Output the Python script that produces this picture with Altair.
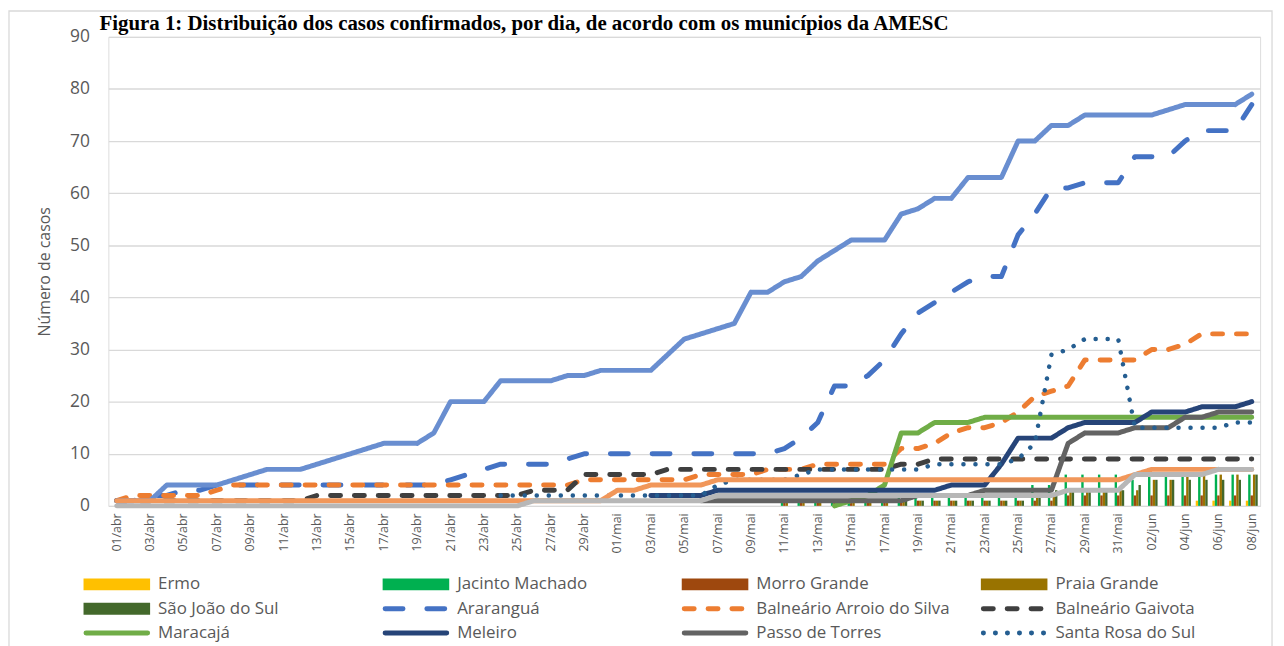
import altair as alt
import pandas as pd

titulo = "Figura 1: Distribuição dos casos confirmados, por dia, de acordo com os municípios da AMESC"

datas = [
    "01/abr", "02/abr", "03/abr", "04/abr", "05/abr", "06/abr", "07/abr", "08/abr", "09/abr", "10/abr",
    "11/abr", "12/abr", "13/abr", "14/abr", "15/abr", "16/abr", "17/abr", "18/abr", "19/abr", "20/abr",
    "21/abr", "22/abr", "23/abr", "24/abr", "25/abr", "26/abr", "27/abr", "28/abr", "29/abr", "30/abr",
    "01/mai", "02/mai", "03/mai", "04/mai", "05/mai", "06/mai", "07/mai", "08/mai", "09/mai", "10/mai",
    "11/mai", "12/mai", "13/mai", "14/mai", "15/mai", "16/mai", "17/mai", "18/mai", "19/mai", "20/mai",
    "21/mai", "22/mai", "23/mai", "24/mai", "25/mai", "26/mai", "27/mai", "28/mai", "29/mai", "30/mai",
    "31/mai", "01/jun", "02/jun", "03/jun", "04/jun", "05/jun", "06/jun", "07/jun", "08/jun",
]

N = None

# ---- bar series (clustered columns) ----
ermo = [0, 0, 0, 0, 0, 0, 0, 0, 0, 0,
        0, 0, 0, 0, 0, 0, 0, 0, 0, 0,
        0, 0, 0, 0, 0, 0, 0, 0, 0, 0,
        0, 0, 0, 0, 0, 0, 0, 0, 0, 0,
        0, 0, 0, 0, 0, 0, 0, 0, 0, 0,
        0, 0, 0, 0, 0, 0, 0, 0, 0, 0,
        0, 0, 0, 0, 0, 1, 1, 1, 1]
jacinto = [0, 0, 0, 0, 0, 0, 0, 0, 0, 0,
           0, 0, 0, 0, 0, 0, 0, 0, 0, 0,
           0, 0, 0, 0, 0, 0, 0, 0, 0, 0,
           0, 0, 0, 0, 0, 0, 0, 0, 0, 0,
           1, 1, 1, 1, 1, 1, 1, 2, 2, 2,
           2, 2, 2, 2, 2, 4, 4, 6, 6, 6,
           6, 5, 6, 6, 6, 6, 6, 6, 6]
morro = [0, 0, 0, 0, 0, 0, 0, 0, 0, 0,
         0, 0, 0, 0, 0, 0, 0, 0, 0, 0,
         0, 0, 0, 0, 0, 0, 0, 0, 0, 0,
         0, 0, 0, 0, 0, 0, 0, 0, 0, 0,
         1, 1, 1, 1, 1, 1, 1, 1, 1, 1,
         1, 1, 1, 1, 1, 1, 1, 2, 2, 2,
         2, 2, 2, 2, 2, 2, 2, 2, 2]
praia = [0, 0, 0, 0, 0, 0, 0, 0, 0, 0,
         0, 0, 0, 0, 0, 0, 0, 0, 0, 0,
         0, 0, 0, 0, 0, 0, 0, 0, 0, 0,
         0, 0, 0, 0, 0, 0, 0, 0, 0, 0,
         1, 1, 1, 1, 1, 1, 1, 1, 1, 1,
         1, 1, 1, 1, 1, 2, 2, 3, 3, 3,
         3, 3, 5, 5, 6, 6, 6, 6, 6]
saojoao = [0, 0, 0, 0, 0, 0, 0, 0, 0, 0,
           0, 0, 0, 0, 0, 0, 0, 0, 0, 0,
           0, 0, 0, 0, 0, 0, 0, 0, 0, 0,
           0, 0, 0, 0, 0, 0, 0, 0, 0, 0,
           0, 0, 0, 0, 0, 0, 0, 1, 1, 1,
           1, 1, 1, 1, 1, 2, 3, 3, 3, 3,
           3, 4, 5, 5, 5, 5, 5, 5, 6]

# ---- line series ----
ararangua = [1, 1, 2, 2, 3, 3, 4, 4, 4, 4,
             4, 4, 4, 4, 4, 4, 4, 4, 4, 4,
             5, 6, 7, 8, 8, 8, 8, 9, 10, 10,
             10, 10, 10, 10, 10, 10, 10, 10, 10, 10,
             11, 13, 16, 23, 23, 25, 28, 33, 37, 39,
             41, 43, 44, 44, 52, 56, 61, 61, 62, 62,
             62, 67, 67, 67, 70, 72, 72, 72, 77]
arroio = [1, 2, 2, 2, 2, 2, 3, 4, 4, 4,
          4, 4, 4, 4, 4, 4, 4, 4, 4, 4,
          4, 4, 4, 4, 4, 4, 4, 4, 5, 5,
          5, 5, 5, 5, 5, 6, 6, 6, 6, 7,
          7, 7, 8, 8, 8, 8, 8, 11, 11, 12,
          14, 15, 15, 16, 18, 21, 22, 23, 28, 28,
          28, 28, 30, 30, 31, 33, 33, 33, 33]
gaivota = [1, 1, 1, 1, 1, 1, 1, 1, 1, 1,
           1, 1, 2, 2, 2, 2, 2, 2, 2, 2,
           2, 2, 2, 2, 2, 3, 3, 3, 6, 6,
           6, 6, 6, 7, 7, 7, 7, 7, 7, 7,
           7, 7, 7, 7, 7, 7, 7, 8, 8, 9,
           9, 9, 9, 9, 9, 9, 9, 9, 9, 9,
           9, 9, 9, 9, 9, 9, 9, 9, 9]
maracaja = [N, N, N, N, N, N, N, N, N, N,
            N, N, N, N, N, N, N, N, N, N,
            N, N, N, N, N, N, N, N, N, N,
            N, N, N, N, N, N, N, N, N, N,
            N, N, N, 0, 1, 2, 4, 14, 14, 16,
            16, 16, 17, 17, 17, 17, 17, 17, 17, 17,
            17, 17, 17, 17, 17, 17, 17, 17, 17]
meleiro = [N, N, N, N, N, N, N, N, N, N,
           N, N, N, N, N, N, N, N, N, N,
           N, N, N, N, N, N, N, N, N, N,
           N, N, 2, 2, 2, 2, 3, 3, 3, 3,
           3, 3, 3, 3, 3, 3, 3, 3, 3, 3,
           4, 4, 4, 8, 13, 13, 13, 15, 16, 16,
           16, 16, 18, 18, 18, 19, 19, 19, 20]
passo = [N, N, N, N, N, N, N, N, N, N,
         N, N, N, N, N, N, N, N, N, N,
         N, N, N, N, N, N, N, N, N, N,
         N, N, N, N, N, 1, 1, 1, 1, 1,
         1, 1, 1, 1, 1, 1, 1, 1, 2, 2,
         2, 2, 3, 3, 3, 3, 3, 12, 14, 14,
         14, 15, 15, 15, 17, 17, 18, 18, 18]
santa_rosa = [N, N, N, N, N, N, N, N, N, N,
              N, N, N, N, N, N, N, N, N, N,
              N, N, N, 2, 2, 2, 2, 2, 2, 2,
              2, 2, 2, 2, 2, 2, 4, 5, 5, 5,
              5, 6, 7, 7, 7, 7, 7, 7, 7, 8,
              8, 8, 8, 8, 9, 12, 29, 30, 32, 32,
              32, 15, 15, 15, 15, 15, 15, 16, 16]
sombrio = [1, 1, 1, 4, 4, 4, 4, 5, 6, 7,
           7, 7, 8, 9, 10, 11, 12, 12, 12, 14,
           20, 20, 20, 24, 24, 24, 24, 25, 25, 26,
           26, 26, 26, 29, 32, 33, 34, 35, 41, 41,
           43, 44, 47, 49, 51, 51, 51, 56, 57, 59,
           59, 63, 63, 63, 70, 70, 73, 73, 75, 75,
           75, 75, 75, 76, 77, 77, 77, 77, 79]
timbe = [1, 1, 1, 1, 1, 1, 1, 1, 1, 1,
         1, 1, 1, 1, 1, 1, 1, 1, 1, 1,
         1, 1, 1, 1, 1, 1, 1, 1, 1, 1,
         3, 3, 4, 4, 4, 4, 5, 5, 5, 5,
         5, 5, 5, 5, 5, 5, 5, 5, 5, 5,
         5, 5, 5, 5, 5, 5, 5, 5, 5, 5,
         5, 6, 7, 7, 7, 7, 7, 7, 7]
turvo = [0, 0, 0, 0, 0, 0, 0, 0, 0, 0,
         0, 0, 0, 0, 0, 0, 0, 0, 0, 0,
         0, 0, 0, 0, 0, 1, 1, 1, 1, 1,
         1, 1, 1, 1, 1, 1, 2, 2, 2, 2,
         2, 2, 2, 2, 2, 2, 2, 2, 2, 2,
         2, 2, 2, 2, 2, 2, 2, 3, 3, 3,
         3, 6, 6, 6, 6, 6, 7, 7, 7]

bar_names = ["Ermo", "Jacinto Machado", "Morro Grande", "Praia Grande", "São João do Sul"]
bar_values = [ermo, jacinto, morro, praia, saojoao]
bar_colors = ["#FFC000", "#00B050", "#9E480E", "#997300", "#43682B"]

line_names = ["Araranguá", "Balneário Arroio do Silva", "Balneário Gaivota", "Maracajá",
              "Meleiro", "Passo de Torres", "Santa Rosa do Sul", "Sombrio", "Timbé do Sul", "Turvo"]
line_values = [ararangua, arroio, gaivota, maracaja, meleiro, passo, santa_rosa, sombrio, timbe, turvo]
line_colors = ["#4472C4", "#ED7D31", "#3F3F3F", "#70AD47", "#264478", "#636363",
               "#255E91", "#698ED0", "#F1975A", "#B7B7B7"]
line_dashes = [[18, 24], [10, 14], [10, 14], [1, 0], [1, 0], [1, 0], [0.1, 12], [1, 0], [1, 0], [1, 0]]
line_widths = [5, 5, 5, 5, 5, 5, 4.5, 5, 5, 5]

# ---------------- scales / axes ----------------
GRAY = "#595959"
xscale = alt.Scale(type="band", domain=datas, paddingInner=0, paddingOuter=0)
yscale = alt.Scale(domain=[0, 90], nice=False, zero=True)
xaxis = alt.Axis(values=datas[::2], labelAngle=-90, labelFontSize=12.5, labelColor=GRAY,
                 labelFont="Open Sans", ticks=False, domain=False, grid=False, title=None,
                 labelPadding=7)
yaxis = alt.Axis(values=list(range(0, 100, 10)), grid=True, gridColor="#D9D9D9", gridWidth=1.3,
                 domain=False, ticks=False, labelFontSize=17.5, labelColor=GRAY,
                 labelFont="Open Sans", labelPadding=19, title="Número de casos",
                 titleFontSize=16, titleFontWeight="normal", titleColor=GRAY,
                 titleFont="Open Sans", titleX=-56)

# bars
bar_rows = []
for name, vals in zip(bar_names, bar_values):
    for d, v in zip(datas, vals):
        if v:
            bar_rows.append({"data": d, "serie": name, "valor": v})
bars = alt.Chart(pd.DataFrame(bar_rows)).mark_bar().encode(
    x=alt.X("data:N", scale=xscale, axis=xaxis),
    xOffset=alt.XOffset("serie:N", scale=alt.Scale(domain=bar_names, paddingOuter=1, paddingInner=0)),
    y=alt.Y("valor:Q", scale=yscale, axis=yaxis),
    color=alt.Color("serie:N", scale=alt.Scale(domain=bar_names, range=bar_colors), legend=None),
)

line_layers = []
for name, vals, col, dash, w in zip(line_names, line_values, line_colors, line_dashes, line_widths):
    rows = [{"data": d, "valor": v} for d, v in zip(datas, vals) if v is not None]
    line_layers.append(
        alt.Chart(pd.DataFrame(rows)).mark_line(
            color=col, strokeWidth=w, strokeDash=dash, strokeCap="round", strokeJoin="round"
        ).encode(
            x=alt.X("data:N", scale=xscale, axis=xaxis, bandPosition=0.5),
            y=alt.Y("valor:Q", scale=yscale, axis=yaxis),
        )
    )

main = alt.layer(bars, *line_layers)

# ---------------- legend (4 columns) ----------------
leg_names = bar_names + line_names[:7]
leg = pd.DataFrame({
    "name": leg_names,
    "col": [k % 4 for k in range(len(leg_names))],
    "row": [k // 4 for k in range(len(leg_names))],
})
lx = alt.Scale(domain=[0, 3], range=[-25, 878])
ly = alt.Scale(domain=[0, 2], range=[551, 600])

leg_bar = alt.Chart(leg[leg["name"].isin(bar_names)]).mark_rule(
    strokeWidth=12, strokeCap="butt", x2Offset=67
).encode(
    x=alt.X("col:Q", scale=lx, axis=None), x2="col:Q",
    y=alt.Y("row:Q", scale=ly, axis=None),
    color=alt.Color("name:N", scale=alt.Scale(domain=bar_names, range=bar_colors), legend=None),
)
leg_line = alt.Chart(leg[leg["name"].isin(line_names)]).mark_rule(
    strokeWidth=5, strokeCap="round", xOffset=2.5, x2Offset=64.5
).encode(
    x=alt.X("col:Q", scale=lx, axis=None), x2="col:Q",
    y=alt.Y("row:Q", scale=ly, axis=None),
    color=alt.Color("name:N", scale=alt.Scale(domain=line_names[:7], range=line_colors[:7]), legend=None),
    strokeDash=alt.StrokeDash("name:N", scale=alt.Scale(domain=line_names[:7], range=line_dashes[:7]), legend=None),
)
leg_text = alt.Chart(leg).mark_text(
    align="left", baseline="middle", dx=75, font="Open Sans", fontSize=17, color=GRAY
).encode(
    x=alt.X("col:Q", scale=lx, axis=None),
    y=alt.Y("row:Q", scale=ly, axis=None),
    text="name:N",
)

frame = alt.Chart(alt.Data(values=[{}])).mark_rect(
    filled=False, stroke="#D9D9D9", strokeWidth=1.3
).encode(x=alt.value(-100), x2=alt.value(1171), y=alt.value(-26), y2=alt.value(700))

title = alt.Chart(alt.Data(values=[{"t": titulo}])).mark_text(
    align="left", baseline="alphabetic", font="Liberation Serif", fontWeight="bold",
    fontSize=21, color="black"
).encode(x=alt.value(-9), y=alt.value(-7), text="t:N")

chart = alt.layer(frame, title, main, leg_bar, leg_line, leg_text).resolve_scale(
    x="independent", y="independent", color="independent", strokeDash="independent"
).properties(
    width=1159, height=472,
    padding={"left": 101, "top": 27, "right": 16, "bottom": 139},
    autosize=alt.AutoSizeParams(type="none"),
).configure_view(strokeWidth=0).configure(font="Open Sans")

chart.save("out.html", embed_options={"renderer": "svg", "actions": False})
